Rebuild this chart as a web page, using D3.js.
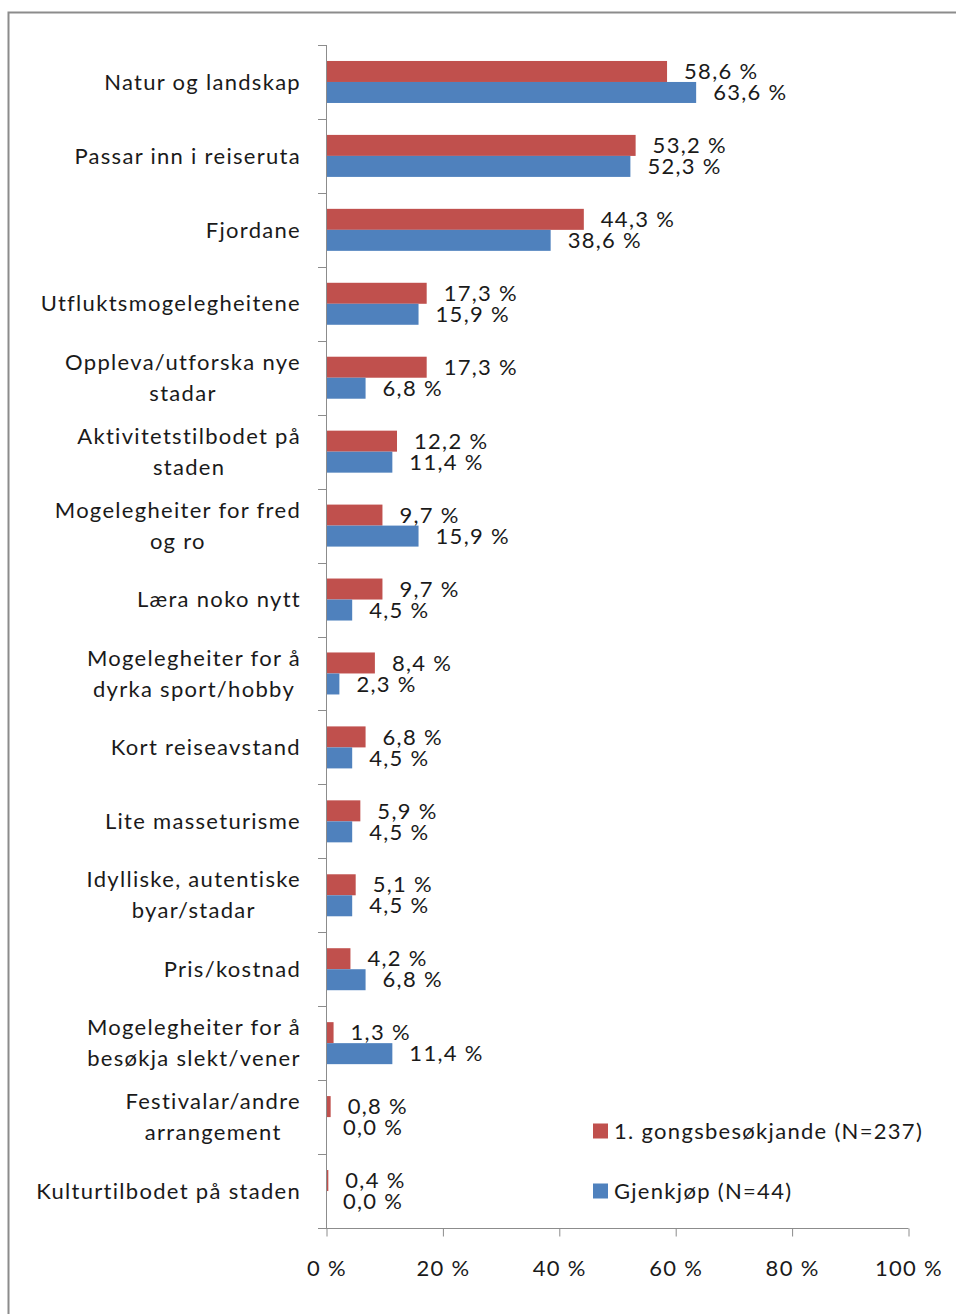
<!DOCTYPE html>
<html>
<head>
<meta charset="utf-8">
<script src="https://cdn.jsdelivr.net/npm/d3@7"></script>
<style>
    html, body { margin: 0; padding: 0; background: #fff; }
    svg { display: block; }
    text { font-family: Lato, "Open Sans", sans-serif; fill: #1a1a1a; letter-spacing: 1.3px; }
</style>
</head>
<body>
<svg id="chart" width="956" height="1314"></svg>
<script>
const categories = [
    ['Natur og landskap'],
    ['Passar inn i reiseruta'],
    ['Fjordane'],
    ['Utfluktsmogelegheitene'],
    ['Oppleva/utforska nye', 'stadar'],
    ['Aktivitetstilbodet på', 'staden'],
    ['Mogelegheiter for fred', 'og ro'],
    ['Læra noko nytt'],
    ['Mogelegheiter for å', 'dyrka sport/hobby'],
    ['Kort reiseavstand'],
    ['Lite masseturisme'],
    ['Idylliske, autentiske', 'byar/stadar'],
    ['Pris/kostnad'],
    ['Mogelegheiter for å', 'besøkja slekt/vener'],
    ['Festivalar/andre', 'arrangement'],
    ['Kulturtilbodet på staden']
];

const firstVisit = [58.6, 53.2, 44.3, 17.3, 17.3, 12.2, 9.7, 9.7, 8.4, 6.8, 5.9, 5.1, 4.2, 1.3, 0.8, 0.4];
const returning = [63.6, 52.3, 38.6, 15.9, 6.8, 11.4, 15.9, 4.5, 2.3, 4.5, 4.5, 4.5, 6.8, 11.4, 0.0, 0.0];

const seriesNames = ['1. gongsbesøkjande (N=237)', 'Gjenkjøp (N=44)'];
const seriesColors = ['#C0504D', '#4F81BD'];
const xTicks = [0, 20, 40, 60, 80, 100];

const margin = { top: 45, left: 326, right: 48, bottom: 86 };
const width = 956;
const height = 1314;
const chartWidth = width - margin.left - margin.right;
const chartHeight = height - margin.top - margin.bottom;
const fontSize = 22;

const svg = d3.select('#chart');

// outer frame
svg.append('rect')
    .attr('x', 8.5)
    .attr('y', 12.5)
    .attr('width', 970)
    .attr('height', 1320)
    .attr('fill', 'none')
    .attr('stroke', '#8c8c8c')
    .attr('stroke-width', 2);

const g = svg.append('g')
    .attr('transform', `translate(${margin.left},${margin.top})`);

const x = d3.scaleLinear().domain([0, 100]).range([0, chartWidth]);
const y = d3.scaleBand()
    .domain(d3.range(categories.length))
    .range([0, chartHeight])
    .paddingInner(0.432)
    .paddingOuter(0.216);
const ySub = d3.scaleBand().domain([0, 1]).range([0, y.bandwidth()]);
const bandStep = y.step();

const fmt = v => v.toFixed(1).replace('.', ',') + ' %';

// bars + value labels
const seriesData = [firstVisit, returning];
seriesData.forEach((values, s) => {
    g.selectAll(`rect.s${s}`)
        .data(values)
        .enter()
        .append('rect')
        .attr('class', `s${s}`)
        .attr('x', x(0))
        .attr('y', (d, i) => y(i) + ySub(s))
        .attr('width', d => x(d))
        .attr('height', ySub.bandwidth())
        .attr('fill', seriesColors[s]);

    g.selectAll(`text.v${s}`)
        .data(values)
        .enter()
        .append('text')
        .attr('class', `v${s}`)
        .attr('x', d => x(d) + 17)
        .attr('y', (d, i) => y(i) + ySub(s) + ySub.bandwidth() / 2)
        .attr('dy', '0.35em')
        .attr('font-size', fontSize)
        .text(fmt);
});

// y axis line + ticks between categories
g.append('line')
    .attr('x1', 0.5).attr('x2', 0.5)
    .attr('y1', 0).attr('y2', chartHeight)
    .attr('stroke', '#8c8c8c');
g.selectAll('line.ytick')
    .data(d3.range(categories.length + 1))
    .enter()
    .append('line')
    .attr('class', 'ytick')
    .attr('x1', -8).attr('x2', 0)
    .attr('y1', i => Math.round(i * bandStep) + 0.5)
    .attr('y2', i => Math.round(i * bandStep) + 0.5)
    .attr('stroke', '#8c8c8c');

// category labels, block right aligned, lines centred
const lineGap = 31;
categories.forEach((lines, i) => {
    const cy = y(i) + y.bandwidth() / 2;
    const grp = g.append('g');
    const texts = grp.selectAll('text')
        .data(lines)
        .enter()
        .append('text')
        .attr('font-size', fontSize)
        .attr('text-anchor', 'middle')
        .attr('dy', '0.35em')
        .attr('y', (d, k) => cy + (k - (lines.length - 1) / 2) * lineGap)
        .text(d => d);
    let maxW = 0;
    texts.each(function () { maxW = Math.max(maxW, this.getComputedTextLength()); });
    texts.attr('x', -25 - maxW / 2);
});

// x axis
const xAxis = d3.axisBottom(x)
    .tickValues(xTicks)
    .tickSize(8)
    .tickPadding(24)
    .tickFormat(d => d + ' %');

const xg = g.append('g')
    .attr('transform', `translate(0.5,${chartHeight + 0.5})`)
    .call(xAxis);
xg.select('.domain').attr('stroke', '#8c8c8c').attr('d', `M-8,0H${chartWidth}`);
xg.selectAll('.tick line').attr('stroke', '#8c8c8c');
xg.selectAll('.tick text')
    .attr('font-size', fontSize)
    .attr('font-family', 'Lato, "Open Sans", sans-serif')
    .attr('fill', '#1a1a1a');

// legend
const legend = svg.append('g')
    .attr('transform', 'translate(593,1131)');
seriesNames.forEach((name, s) => {
    const item = legend.append('g')
        .attr('transform', `translate(0,${s * 60})`);
    item.append('rect')
        .attr('x', 0).attr('y', -7.5)
        .attr('width', 15).attr('height', 15)
        .attr('fill', seriesColors[s]);
    item.append('text')
        .attr('x', 21)
        .attr('dy', '0.35em')
        .attr('font-size', fontSize)
        .text(name);
});
</script>
</body>
</html>
